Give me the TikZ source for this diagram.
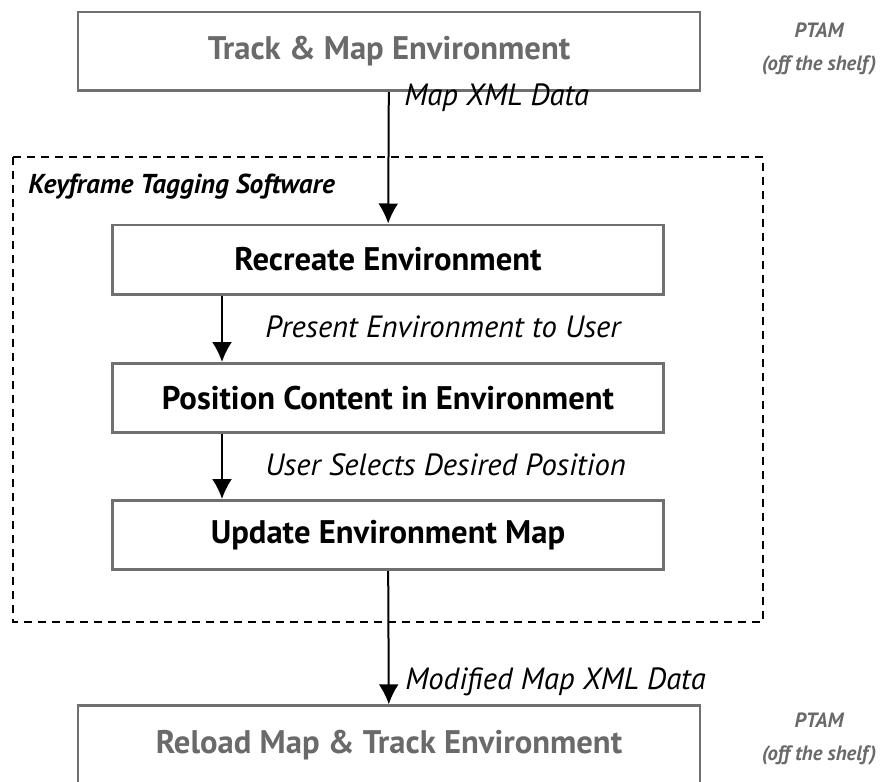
\documentclass[tikz,border=0pt]{standalone}
\usepackage{fontspec}
\setmainfont{PT Sans}
\usetikzlibrary{arrows.meta, positioning}
\definecolor{boxgray}{HTML}{707070}
\definecolor{txtgray}{HTML}{6A6A6A}
\tikzstyle{ptambox} = [draw=boxgray, line width=2pt, rectangle, minimum width=466.5pt, minimum height=59pt, text=txtgray, font=\fontsize{24.5}{28}\selectfont\bfseries]
\tikzstyle{stepbox} = [draw=boxgray, line width=2pt, rectangle, minimum width=413pt, minimum height=52pt, font=\fontsize{24.5}{28}\selectfont\bfseries]
\tikzstyle{flowlabel} = [anchor=west, inner sep=0pt, font=\fontsize{23}{26}\selectfont\itshape]
\tikzstyle{sidenote} = [align=center, inner sep=0pt, text=txtgray, font=\fontsize{15.5}{24.5}\selectfont\bfseries\itshape]
\tikzstyle{flow} = [line width=1.5pt, -{Latex[length=15pt, width=15pt]}]

\begin{document}
\begin{tikzpicture}[x=0.75pt, y=-0.75pt]
	\useasboundingbox (0,0) rectangle (880,781);
	% outer PTAM stages
	\node [ptambox] (track) at (389,51.5) {Track \& Map Environment};
	\node [ptambox] (reload) at (389,745) {Reload Map \& Track Environment};
	\node [sidenote] (ptamtop) at (819,49) {PTAM\\(off the shelf)};
	\node [sidenote] (ptambot) at (819,739) {PTAM\\(off the shelf)};
	% tagging software
	\draw [line width=1.9pt, dash pattern=on 6pt off 4.5pt] (13,157) rectangle (763,622);
	\node [anchor=west, inner sep=0pt, font=\fontsize{20.5}{24}\selectfont\bfseries\itshape] (kts) at (28,187) {Keyframe Tagging Software};
	\node [stepbox] (recreate) at (388,259.5) {Recreate Environment};
	\node [stepbox] (position) at (388,398) {Position Content in Environment};
	\node [stepbox] (update) at (388,535) {Update Environment Map};
	\coordinate (recreateout) at (recreate.south -| 222,0);
	\coordinate (positionin) at (position.north -| 222,0);
	\coordinate (positionout) at (position.south -| 222,0);
	\coordinate (updatein) at (update.north -| 222,0);
	% connectors
	\draw [flow] (track) -- (recreate);
	\draw [flow] (recreateout) -- (positionin);
	\draw [flow] (positionout) -- (updatein);
	\draw [flow] (update) -- (reload);
	\node [flowlabel] (mapxml) at (404,98) {Map XML Data};
	\node [flowlabel] (present) at (265,327) {Present Environment to User};
	\node [flowlabel] (selects) at (265,465) {User Selects Desired Position};
	\node [flowlabel] (modified) at (405,682) {Modified Map XML Data};
\end{tikzpicture}
\end{document}
